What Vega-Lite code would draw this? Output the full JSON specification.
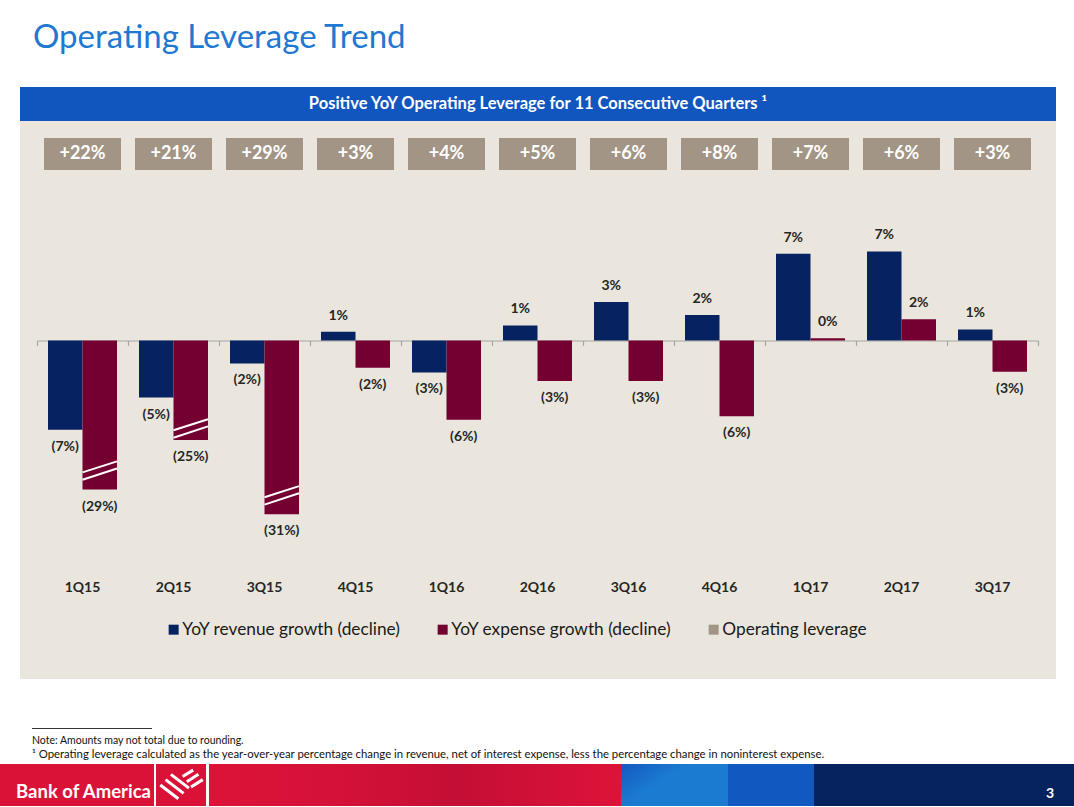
{
  "$schema": "https://vega.github.io/schema/vega-lite/v6.json",
  "background": "white",
  "padding": {"left": 0, "right": 0, "top": 22, "bottom": 0},
  "autosize": {"type": "pad"},
  "spacing": 0,
  "title": {"text": "Operating Leverage Trend", "anchor": "start", "frame": "group", "dx": 33, "fontSize": 33, "font": "Lato", "fontWeight": "normal", "color": "#1F78D2", "offset": 32},
  "config": {"view": {"stroke": null}, "font": "Lato", "concat": {"spacing": 0}},
  "resolve": {"scale": {"color": "independent"}, "legend": {"color": "independent"}},
  "datasets": {
    "banner": [{"row": "banner", "text": "Positive YoY Operating Leverage for 11 Consecutive Quarters ¹"}],
    "leverage": [
      {"quarter": "1Q15", "metric": "Operating leverage", "value": 22, "label": "+22%"},
      {"quarter": "2Q15", "metric": "Operating leverage", "value": 21, "label": "+21%"},
      {"quarter": "3Q15", "metric": "Operating leverage", "value": 29, "label": "+29%"},
      {"quarter": "4Q15", "metric": "Operating leverage", "value": 3, "label": "+3%"},
      {"quarter": "1Q16", "metric": "Operating leverage", "value": 4, "label": "+4%"},
      {"quarter": "2Q16", "metric": "Operating leverage", "value": 5, "label": "+5%"},
      {"quarter": "3Q16", "metric": "Operating leverage", "value": 6, "label": "+6%"},
      {"quarter": "4Q16", "metric": "Operating leverage", "value": 8, "label": "+8%"},
      {"quarter": "1Q17", "metric": "Operating leverage", "value": 7, "label": "+7%"},
      {"quarter": "2Q17", "metric": "Operating leverage", "value": 6, "label": "+6%"},
      {"quarter": "3Q17", "metric": "Operating leverage", "value": 3, "label": "+3%"}
    ],
    "bars": [
      {"quarter": "1Q15", "series": "YoY revenue growth (decline)", "value": -7.2, "label": "(7%)"},
      {"quarter": "1Q15", "series": "YoY expense growth (decline)", "value": -29, "label": "(29%)"},
      {"quarter": "2Q15", "series": "YoY revenue growth (decline)", "value": -4.6, "label": "(5%)"},
      {"quarter": "2Q15", "series": "YoY expense growth (decline)", "value": -25, "label": "(25%)"},
      {"quarter": "3Q15", "series": "YoY revenue growth (decline)", "value": -1.85, "label": "(2%)"},
      {"quarter": "3Q15", "series": "YoY expense growth (decline)", "value": -31, "label": "(31%)"},
      {"quarter": "4Q15", "series": "YoY revenue growth (decline)", "value": 0.7, "label": "1%"},
      {"quarter": "4Q15", "series": "YoY expense growth (decline)", "value": -2.2, "label": "(2%)"},
      {"quarter": "1Q16", "series": "YoY revenue growth (decline)", "value": -2.58, "label": "(3%)"},
      {"quarter": "1Q16", "series": "YoY expense growth (decline)", "value": -6.4, "label": "(6%)"},
      {"quarter": "2Q16", "series": "YoY revenue growth (decline)", "value": 1.21, "label": "1%"},
      {"quarter": "2Q16", "series": "YoY expense growth (decline)", "value": -3.27, "label": "(3%)"},
      {"quarter": "3Q16", "series": "YoY revenue growth (decline)", "value": 3.1, "label": "3%"},
      {"quarter": "3Q16", "series": "YoY expense growth (decline)", "value": -3.27, "label": "(3%)"},
      {"quarter": "4Q16", "series": "YoY revenue growth (decline)", "value": 2.06, "label": "2%"},
      {"quarter": "4Q16", "series": "YoY expense growth (decline)", "value": -6.1, "label": "(6%)"},
      {"quarter": "1Q17", "series": "YoY revenue growth (decline)", "value": 7.0, "label": "7%"},
      {"quarter": "1Q17", "series": "YoY expense growth (decline)", "value": 0.19, "label": "0%"},
      {"quarter": "2Q17", "series": "YoY revenue growth (decline)", "value": 7.18, "label": "7%"},
      {"quarter": "2Q17", "series": "YoY expense growth (decline)", "value": 1.72, "label": "2%"},
      {"quarter": "3Q17", "series": "YoY revenue growth (decline)", "value": 0.89, "label": "1%"},
      {"quarter": "3Q17", "series": "YoY expense growth (decline)", "value": -2.53, "label": "(3%)"}
    ]
  },
  "vconcat": [
    {
      "spacing": 0,
      "resolve": {"scale": {"color": "independent"}, "legend": {"color": "independent"}},
      "hconcat": [
        {"width": 20, "height": 1, "data": {"values": []}, "mark": {"type": "text"}},
        {
          "spacing": 0,
          "resolve": {"scale": {"color": "independent"}, "legend": {"color": "independent"}},
          "vconcat": [
            {
              "width": 1036, "height": 34,
              "view": {"fill": "#1155BF", "stroke": null},
              "data": {"name": "banner"},
              "mark": {"type": "text", "color": "white", "font": "Lato", "fontWeight": "bold", "fontSize": 16.5, "baseline": "middle"},
              "encoding": {
                "text": {"field": "text"},
                "y": {"field": "row", "type": "nominal", "axis": null}
              }
            },
            {
              "width": 1036, "height": 558,
              "view": {"fill": "#EAE6DD", "stroke": null},
              "resolve": {"scale": {"y": "independent"}, "axis": {"x": "independent", "y": "independent"}},
              "layer": [
                {
                  "data": {"name": "bars"},
                  "mark": {"type": "bar"},
                  "encoding": {
                    "x": {"field": "quarter", "type": "nominal", "scale": {"type": "band", "domain": ["1Q15","2Q15","3Q15","4Q15","1Q16","2Q16","3Q16","4Q16","1Q17","2Q17","3Q17"], "range": [17, 1018], "paddingInner": 0, "paddingOuter": 0},
                      "axis": {"orient": "top", "offset": -219.5, "labels": false, "title": null, "grid": false, "domainColor": "#A6A6A6", "domainWidth": 1.2, "tickColor": "#A6A6A6", "tickSize": -5, "tickWidth": 1.2, "tickBand": "extent"}},
                    "xOffset": {"field": "series", "type": "nominal", "scale": {"domain": ["YoY revenue growth (decline)", "YoY expense growth (decline)"], "paddingInner": 0, "paddingOuter": 0.319}},
                    "y": {"field": "value", "type": "quantitative", "scale": {"domain": [-31, -25, -8, 8], "range": [393.3, 318.9, 318.7, 120.3], "zero": false, "nice": false}, "axis": null},
                    "y2": {"datum": 0},
                    "color": {"field": "series", "type": "nominal",
                      "scale": {"domain": ["YoY revenue growth (decline)", "YoY expense growth (decline)", "Operating leverage"], "range": ["#072261", "#730030", "#A39585"]},
                      "legend": {"orient": "none", "legendX": 145, "legendY": 500, "direction": "horizontal", "title": null, "symbolType": "square", "symbolSize": 100, "symbolStrokeWidth": 0, "labelFont": "Lato", "labelFontSize": 17.3, "labelColor": "#1a1a1a", "labelLimit": 0, "columnPadding": 33, "labelOffset": 0}}
                  }
                },
                {
                  "data": {"name": "bars"},
                  "transform": [{"filter": "datum.value < -20"}],
                  "mark": {"type": "point", "shape": "M-1,0.11L1,-0.53M-1,0.54L1,-0.12", "size": 1190, "filled": false, "stroke": "white", "strokeWidth": 2, "opacity": 1, "yOffset": {"expr": "datum.value == -25 ? -11.5 : -19"}},
                  "encoding": {
                    "x": {"field": "quarter", "type": "nominal", "axis": null},
                    "xOffset": {"field": "series", "type": "nominal"},
                    "y": {"field": "value", "type": "quantitative", "scale": {"domain": [-31, -25, -8, 8], "range": [393.3, 318.9, 318.7, 120.3], "zero": false, "nice": false}, "axis": null}
                  }
                },
                {
                  "data": {"name": "bars"},
                  "transform": [{"filter": "datum.value >= 0"}],
                  "mark": {"type": "text", "dy": -16, "font": "Lato", "fontWeight": "bold", "fontSize": 14, "color": "#262626", "baseline": "middle"},
                  "encoding": {
                    "x": {"field": "quarter", "type": "nominal", "axis": null},
                    "xOffset": {"field": "series", "type": "nominal"},
                    "y": {"field": "value", "type": "quantitative", "scale": {"domain": [-31, -25, -8, 8], "range": [393.3, 318.9, 318.7, 120.3], "zero": false, "nice": false}, "axis": null},
                    "text": {"field": "label"}
                  }
                },
                {
                  "data": {"name": "bars"},
                  "transform": [{"filter": "datum.value < 0"}],
                  "mark": {"type": "text", "dy": 17, "font": "Lato", "fontWeight": "bold", "fontSize": 14, "color": "#262626", "baseline": "middle"},
                  "encoding": {
                    "x": {"field": "quarter", "type": "nominal", "axis": null},
                    "xOffset": {"field": "series", "type": "nominal"},
                    "y": {"field": "value", "type": "quantitative", "scale": {"domain": [-31, -25, -8, 8], "range": [393.3, 318.9, 318.7, 120.3], "zero": false, "nice": false}, "axis": null},
                    "text": {"field": "label"}
                  }
                },
                {
                  "data": {"name": "leverage"},
                  "mark": {"type": "point", "shape": "M-1,-0.4156H1V0.4156H-1Z", "size": 5929, "filled": true, "opacity": 1, "strokeWidth": 0},
                  "encoding": {
                    "x": {"field": "quarter", "type": "nominal",
                      "axis": {"orient": "bottom", "offset": -92, "domain": false, "ticks": false, "tickSize": 0, "labelPadding": 0, "labelBaseline": "middle", "labelFont": "Lato", "labelFontWeight": "bold", "labelFontSize": 14, "labelColor": "#262626", "labelAngle": 0, "title": null, "grid": false}},
                    "y": {"field": "metric", "type": "nominal", "scale": {"range": [17, 49]}, "axis": null},
                    "color": {"field": "metric", "type": "nominal"}
                  }
                },
                {
                  "data": {"name": "leverage"},
                  "mark": {"type": "text", "color": "white", "font": "Lato", "fontWeight": "bold", "fontSize": 18, "baseline": "middle"},
                  "encoding": {
                    "x": {"field": "quarter", "type": "nominal", "axis": null},
                    "y": {"field": "metric", "type": "nominal", "scale": {"range": [17, 49]}, "axis": null},
                    "text": {"field": "label"}
                  }
                }
              ]
            }
          ]
        }
      ]
    },
    {
      "spacing": 0,
      "hconcat": [
        {"width": 32, "height": 36, "data": {"values": []}, "mark": {"type": "text"}},
        {
          "width": 120, "height": 1,
          "view": {"fill": "#333333", "stroke": null},
          "data": {"values": [{"k": "a"}]},
          "mark": {"type": "text", "text": ""},
          "encoding": {
            "x": {"field": "k", "type": "nominal", "axis": {"orient": "top", "labels": false, "ticks": false, "domain": false, "title": null, "grid": false, "minExtent": 49, "maxExtent": 49}},
            "y": {"field": "k", "type": "nominal", "axis": null}
          },
          "title": {"text": "Note: Amounts may not total due to rounding.", "subtitle": "¹ Operating leverage calculated as the year-over-year percentage change in revenue, net of interest expense, less the percentage change in noninterest expense.", "orient": "bottom", "anchor": "start", "frame": "group", "font": "Lato", "fontSize": 10.5, "fontWeight": "normal", "color": "#111111", "subtitleFont": "Lato", "subtitleFontSize": 11.35, "subtitleColor": "#111111", "subtitlePadding": 3, "offset": 2}
        }
      ]
    },
    {
      "spacing": 0,
      "hconcat": [
        {"width": 154, "height": 42, "view": {"fill": "#DB1238", "stroke": null},
         "data": {"values": [{"t": "Bank of America"}]},
         "mark": {"type": "text", "color": "white", "font": "Lato", "fontWeight": "bold", "fontSize": 18.5, "baseline": "middle", "dy": 7, "dx": 6.5},
         "encoding": {"text": {"field": "t"}}},
        {"width": 50, "height": 42, "view": {"fill": "#DB1238", "stroke": null},
         "data": {"values": [{"t": "flag"}]},
         "mark": {"type": "point", "shape": "M-1,-0.05L-0.15,0.6M-0.75,-0.3L0.1,0.35M-0.5,-0.55L0.35,0.1M0.05,-0.45L0.55,-0.75M0.25,-0.2L0.8,-0.55M0.45,0.05L1,-0.3", "size": 1800, "filled": false, "stroke": "white", "strokeWidth": 3, "opacity": 1, "yOffset": 1, "xOffset": 0.5}},
        {"width": 412, "height": 42, "view": {"fill": {"gradient": "linear", "x1": 0, "x2": 1, "y1": 0, "y2": 0, "stops": [{"offset": 0, "color": "#DD1339"}, {"offset": 0.35, "color": "#D31137"}, {"offset": 0.6, "color": "#C40E35"}, {"offset": 1, "color": "#DD1339"}]}, "stroke": null},
         "data": {"values": []},
         "mark": {"type": "text"}},
        {"width": 107, "height": 42, "view": {"fill": {"gradient": "linear", "x1": 0, "x2": 1, "y1": 0, "y2": 0.6, "stops": [{"offset": 0, "color": "#1459BF"}, {"offset": 0.45, "color": "#1B7BD0"}, {"offset": 1, "color": "#1B7BD0"}]}, "stroke": null},
         "data": {"values": []},
         "mark": {"type": "text"}},
        {"width": 86, "height": 42, "view": {"fill": "#1258C1", "stroke": null},
         "data": {"values": []},
         "mark": {"type": "text"}},
        {"width": 221, "height": 42, "view": {"fill": "#07235F", "stroke": null},
         "data": {"values": []},
         "mark": {"type": "text"}},
        {"width": 30, "height": 42, "view": {"fill": "#07235F", "stroke": null},
         "data": {"values": [{"t": "3"}]},
         "mark": {"type": "text", "color": "white", "font": "Lato", "fontWeight": "bold", "fontSize": 14, "baseline": "middle", "dy": 9},
         "encoding": {"text": {"field": "t"}}},
        {"width": 14, "height": 42, "view": {"fill": "#07235F", "stroke": null},
         "data": {"values": []},
         "mark": {"type": "text"}}
      ]
    }
  ]
}
